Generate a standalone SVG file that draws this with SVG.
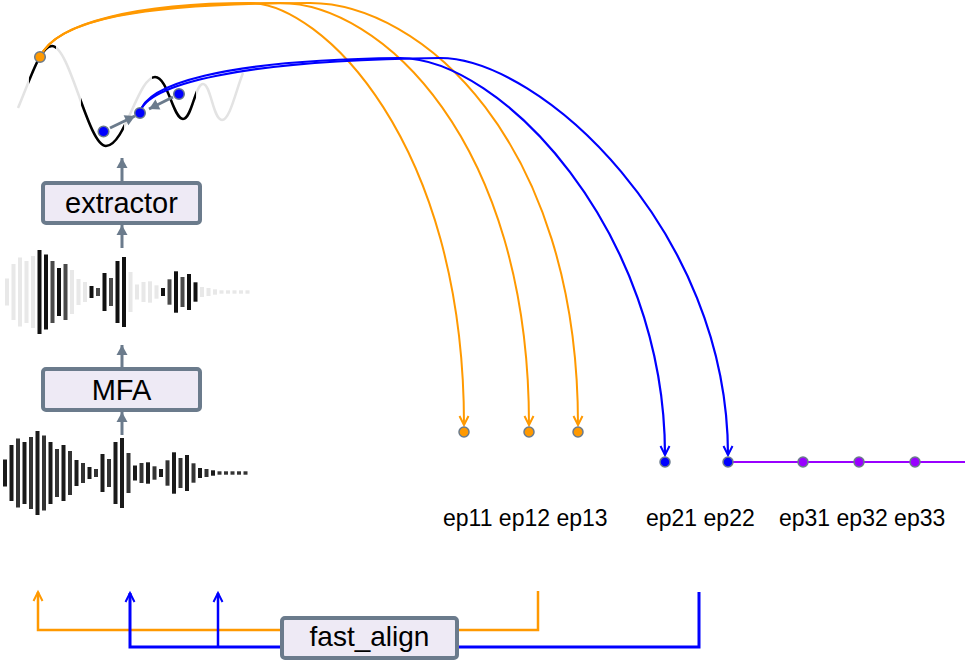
<svg xmlns="http://www.w3.org/2000/svg" width="972" height="672" viewBox="0 0 972 672">
<style>
.box rect{fill:#eeeaf5;stroke:#6b7b8c;stroke-width:4}
.box text{font-family:"Liberation Sans",Arial,sans-serif;font-size:29px;fill:#000;text-anchor:middle}
#node-fast-align text{font-size:28px}
.lbl{font-family:"Liberation Sans",Arial,sans-serif;font-size:23px;fill:#000}
.garrow{stroke:#6b7b8c;stroke-width:3;fill:none}
.or{stroke:#ff9900;fill:none;stroke-width:2}
.bl{stroke:#0000ff;fill:none;stroke-width:2.2}
.dot{stroke:#6b7b8c;stroke-width:1.5}
.L{fill:#e8e8e8}.B{fill:#111}.G{fill:#4a4a4a}.K{fill:#1a1a1a}.D{fill:#333}
</style>
<defs>
<marker id="gh" markerUnits="userSpaceOnUse" markerWidth="12" markerHeight="12" refX="10" refY="6" orient="auto" overflow="visible"><path d="M0,0.5 L10,6 L0,11.5 Z" fill="#6b7b8c"/></marker>
<marker id="gs" markerUnits="userSpaceOnUse" markerWidth="11" markerHeight="11" refX="10" refY="5.5" orient="auto" overflow="visible"><path d="M0,0 L10,5.5 L0,11 Z" fill="#6b7b8c"/></marker>
<marker id="oh" markerUnits="userSpaceOnUse" markerWidth="12" markerHeight="12" refX="9" refY="5" orient="auto" overflow="visible"><path d="M0,0.5 L9,5 L0,9.5" fill="none" stroke="#ff9900" stroke-width="2"/></marker>
<marker id="bh" markerUnits="userSpaceOnUse" markerWidth="12" markerHeight="12" refX="9" refY="5" orient="auto" overflow="visible"><path d="M0,0.5 L9,5 L0,9.5" fill="none" stroke="#0000ff" stroke-width="2"/></marker>
<path id="wv" d="M18,108 C30,80 40,46 52,46 C70,46 88,146 106,146 C125,146 138,77 155,77 C168,77 173,119 183,119 C192,119 195,84 203,84 C211,84 213,120 222,120 C230,120 236,90 243,73"/>
<clipPath id="wclip"><rect x="29" y="0" width="27" height="200"/><rect x="81" y="0" width="43" height="200"/><rect x="152" y="0" width="44" height="200"/></clipPath>
</defs>

<g id="node-wave-top">
<use href="#wv" fill="none" stroke="#e3e3e3" stroke-width="2.5"/>
<use href="#wv" fill="none" stroke="#000" stroke-width="2.5" clip-path="url(#wclip)"/>
</g>

<g id="node-wave-mid">
<rect class="L" x="5" y="278.5" width="4" height="27"/>
<rect class="L" x="11.5" y="264" width="4" height="56"/>
<rect class="L" x="18" y="257.5" width="4" height="69"/>
<rect class="L" x="24.5" y="261" width="4" height="62"/>
<rect class="L" x="31" y="256" width="4" height="72"/>
<rect class="B" x="37.5" y="250" width="4" height="84"/>
<rect class="B" x="44" y="254.5" width="4" height="75"/>
<rect class="G" x="50.5" y="261" width="4" height="62"/>
<rect class="B" x="57" y="268" width="4" height="48"/>
<rect class="G" x="63.5" y="264" width="4" height="56"/>
<rect class="L" x="70" y="270" width="4" height="44"/>
<rect class="L" x="76.5" y="279" width="4" height="26"/>
<rect class="L" x="83" y="282" width="4" height="20"/>
<rect class="B" x="89.5" y="286" width="4" height="12"/>
<rect class="G" x="96" y="288" width="4" height="8"/>
<rect class="B" x="102.5" y="273" width="4" height="38"/>
<rect class="G" x="109" y="278" width="4" height="28"/>
<rect class="B" x="115.5" y="261" width="4" height="62"/>
<rect class="B" x="122" y="257" width="4" height="70"/>
<rect class="L" x="128.5" y="272" width="4" height="40"/>
<rect class="L" x="135" y="284.5" width="4" height="15"/>
<rect class="L" x="141.5" y="282" width="4" height="20"/>
<rect class="L" x="148" y="281.3" width="4" height="21.4"/>
<rect class="L" x="154.5" y="285.3" width="4" height="13.4"/>
<rect class="B" x="161" y="288" width="4" height="8"/>
<rect class="G" x="167.5" y="279.3" width="4" height="25.4"/>
<rect class="B" x="174" y="271.3" width="4" height="41.4"/>
<rect class="G" x="180.5" y="277" width="4" height="30"/>
<rect class="B" x="187" y="274" width="4" height="36"/>
<rect class="B" x="193.5" y="282.3" width="4" height="19.4"/>
<rect class="L" x="200" y="287" width="4" height="10"/>
<rect class="L" x="206.5" y="288" width="4" height="8"/>
<rect class="L" x="213" y="289.3" width="4" height="5.4"/>
<rect class="L" x="219.5" y="290.3" width="4" height="3.4"/>
<rect class="L" x="226" y="290.3" width="4" height="3.4"/>
<rect class="L" x="232.5" y="290.3" width="4" height="3.4"/>
<rect class="L" x="239" y="290.3" width="4" height="3.4"/>
<rect class="L" x="245.5" y="290.3" width="4" height="3.4"/>
</g>

<g id="node-wave-bottom">
<rect class="K" x="3" y="459.5" width="4" height="27"/>
<rect class="K" x="9.5" y="445" width="4" height="56"/>
<rect class="D" x="16" y="438.5" width="4" height="69"/>
<rect class="K" x="22.5" y="442" width="4" height="62"/>
<rect class="D" x="29" y="437" width="4" height="72"/>
<rect class="K" x="35.5" y="431" width="4" height="84"/>
<rect class="D" x="42" y="435.5" width="4" height="75"/>
<rect class="K" x="48.5" y="442" width="4" height="62"/>
<rect class="D" x="55" y="449" width="4" height="48"/>
<rect class="K" x="61.5" y="445" width="4" height="56"/>
<rect class="D" x="68" y="451" width="4" height="44"/>
<rect class="K" x="74.5" y="460" width="4" height="26"/>
<rect class="D" x="81" y="463" width="4" height="20"/>
<rect class="K" x="87.5" y="467" width="4" height="12"/>
<rect class="D" x="94" y="469" width="4" height="8"/>
<rect class="K" x="100.5" y="454" width="4" height="38"/>
<rect class="D" x="107" y="459" width="4" height="28"/>
<rect class="K" x="113.5" y="442" width="4" height="62"/>
<rect class="K" x="120" y="438" width="4" height="70"/>
<rect class="D" x="126.5" y="453" width="4" height="40"/>
<rect class="K" x="133" y="465.5" width="4" height="15"/>
<rect class="D" x="139.5" y="463" width="4" height="20"/>
<rect class="K" x="146" y="462.3" width="4" height="21.4"/>
<rect class="D" x="152.5" y="466.3" width="4" height="13.4"/>
<rect class="K" x="159" y="469" width="4" height="8"/>
<rect class="D" x="165.5" y="460.3" width="4" height="25.4"/>
<rect class="K" x="172" y="452.3" width="4" height="41.4"/>
<rect class="D" x="178.5" y="458" width="4" height="30"/>
<rect class="K" x="185" y="455" width="4" height="36"/>
<rect class="D" x="191.5" y="463.3" width="4" height="19.4"/>
<rect class="K" x="198" y="468" width="4" height="10"/>
<rect class="D" x="204.5" y="469" width="4" height="8"/>
<rect class="K" x="211" y="470.3" width="4" height="5.4"/>
<rect class="D" x="217.5" y="471.3" width="4" height="3.4"/>
<rect class="D" x="224" y="471.3" width="4" height="3.4"/>
<rect class="D" x="230.5" y="471.3" width="4" height="3.4"/>
<rect class="D" x="237" y="471.3" width="4" height="3.4"/>
<rect class="D" x="243.5" y="471.3" width="4" height="3.4"/>
</g>

<g id="connectors">
<path class="garrow" d="M122,183 L122,158" marker-end="url(#gh)"/>
<path class="garrow" d="M122,248 L122,225" marker-end="url(#gh)"/>
<path class="garrow" d="M122,369 L122,345" marker-end="url(#gh)"/>
<path class="garrow" d="M122,435 L122,412" marker-end="url(#gh)"/>
<path class="garrow" d="M110,128 L135,116" marker-end="url(#gs)"/>
<path class="garrow" d="M173,97 L149,109" marker-end="url(#gs)"/>
<path class="or" d="M40,57 C55,22 140,3 250,3 C320,3 464,140 464,425" marker-end="url(#oh)"/>
<path class="or" d="M40,57 C56,21 140,3 280,3 C380,3 529,140 529,425" marker-end="url(#oh)"/>
<path class="or" d="M40,57 C57,20 140,3 310,3 C420,3 578,140 578,425" marker-end="url(#oh)"/>
<path class="bl" d="M140,113 C145,85 220,60 400,58 C500,58 665,230 665,455" marker-end="url(#bh)"/>
<path class="bl" d="M140,113 C145,85 240,60 440,58 C540,58 728,230 728,455" marker-end="url(#bh)"/>
<path d="M728,462 L965,462" stroke="#9900ff" stroke-width="2" fill="none"/>
<path d="M538,591 L538,630 L38,630 L38,592" stroke="#ff9900" stroke-width="2.5" fill="none" marker-end="url(#oh)"/>
<path d="M699,592 L699,647 L130,647 L130,593" stroke="#0000ff" stroke-width="3" fill="none" marker-end="url(#bh)"/>
<path d="M218,647 L218,593" stroke="#0000ff" stroke-width="2.5" fill="none" marker-end="url(#bh)"/>
</g>

<g id="node-wave-dots">
<circle class="dot" cx="40" cy="57" r="5.3" fill="#ff9900"/>
<circle class="dot" cx="103.5" cy="131.5" r="5.3" fill="#0000ff"/>
<circle class="dot" cx="140" cy="113" r="5.3" fill="#0000ff"/>
<circle class="dot" cx="179" cy="94" r="5.3" fill="#0000ff"/>
</g>

<g id="node-extractor" class="box">
<rect x="43" y="183" width="157" height="40" rx="3"/>
<text x="121.5" y="213">extractor</text>
</g>
<g id="node-mfa" class="box">
<rect x="43" y="369" width="157" height="41" rx="3"/>
<text x="121.5" y="400">MFA</text>
</g>
<g id="node-fast-align" class="box">
<rect x="282" y="618" width="175" height="40" rx="3"/>
<text x="369.5" y="646">fast_align</text>
</g>

<g id="node-ep1">
<circle class="dot" cx="464" cy="432" r="5" fill="#ff9900"/>
<circle class="dot" cx="529" cy="432" r="5" fill="#ff9900"/>
<circle class="dot" cx="578" cy="432" r="5" fill="#ff9900"/>
<text class="lbl" x="443" y="526">ep11 ep12 ep13</text>
</g>
<g id="node-ep2">
<circle class="dot" cx="665" cy="462" r="5" fill="#0000ff"/>
<circle class="dot" cx="728" cy="462" r="5" fill="#0000ff"/>
<text class="lbl" x="646" y="526">ep21 ep22</text>
</g>
<g id="node-ep3">
<circle class="dot" cx="803" cy="462" r="5" fill="#9900ff"/>
<circle class="dot" cx="859" cy="462" r="5" fill="#9900ff"/>
<circle class="dot" cx="915" cy="462" r="5" fill="#9900ff"/>
<text class="lbl" x="779" y="526">ep31 ep32 ep33</text>
</g>
</svg>
